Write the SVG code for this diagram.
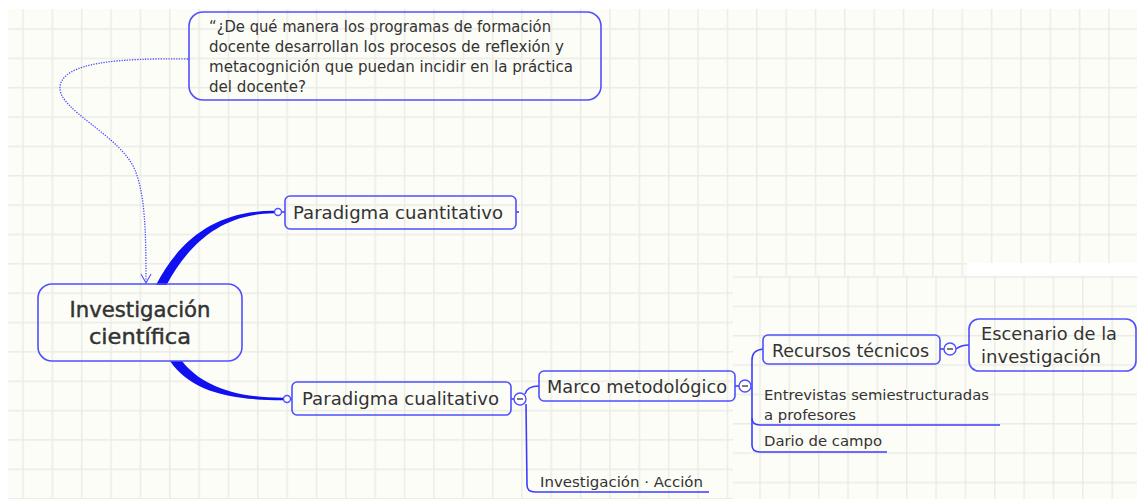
<svg xmlns="http://www.w3.org/2000/svg" width="1137" height="499" viewBox="0 0 1137 499">
<defs>
<pattern id="grid" patternUnits="userSpaceOnUse" x="22.25" y="28.25" width="29.35" height="29.35"><path d="M0,0.75H29.35M0.75,0V29.35" stroke="#ececE6" stroke-width="1.5" fill="none"/></pattern>
<pattern id="grid2" patternUnits="userSpaceOnUse" x="759.25" y="276.25" width="29.35" height="29.35"><path d="M0,0.75H29.35M0.75,0V29.35" stroke="#ececE6" stroke-width="1.5" fill="none"/></pattern>
<style>
.box{fill:none;stroke:#4f4fff;stroke-width:1.6}
.t{font-family:"DejaVu Sans",Verdana,sans-serif;fill:#333}
.ln{fill:none;stroke:#3c3cff;stroke-width:1.6}
.btn{fill:#fff;stroke:#4f4fff;stroke-width:1.4}
.minus{stroke:#333;stroke-width:1.3}
.thick{fill:#1010f0}
</style>
</defs>
<rect width="1137" height="499" fill="#ffffff"/>
<rect x="8" y="9" width="1129" height="490" fill="#fdfdf8"/>
<rect x="8" y="9" width="1129" height="490" fill="url(#grid)"/>
<rect x="967" y="263" width="170" height="13" fill="#ffffff"/>
<rect x="733" y="276" width="404" height="223" fill="#fdfdf8"/>
<rect x="733" y="276" width="404" height="223" fill="url(#grid2)"/>

<g id="connectors">
<path d="M188,59 C120,58 62,62 60,87 C58,110 120,135 135,170 C145,195 146,230 146,282" fill="none" stroke="#4a4aff" stroke-width="1.3" stroke-dasharray="1.3 1.3"/>
<polyline points="141,274 146,283 151,274" fill="none" stroke="#5a5aff" stroke-width="1.2"/>
<path class="thick" d="M156,285 C181,237 218,210.8 274,210.8 L274,213.2 C222,214 190,242 166.5,285 Z"/>
<path class="thick" d="M170,361 C190,390.5 228,400.3 283,400.3 L283,397.8 C232,397.8 200,384 182,361 Z"/>
<line class="ln" x1="281" y1="212" x2="285" y2="212"/>
<circle class="btn" cx="278" cy="212" r="3.5"/>
<line class="ln" x1="516" y1="212" x2="519" y2="212"/>
<line class="ln" x1="290" y1="399" x2="292" y2="399"/>
<circle class="btn" cx="287" cy="399" r="3.5"/>
<line class="ln" x1="511" y1="399" x2="514" y2="399"/>
<path class="ln" d="M525,394 Q527,386 539,386"/>
<path class="ln" d="M526,404 L527,485 Q527,492 535,492 L709,492"/>
<line class="ln" x1="735" y1="386" x2="739" y2="386"/>
<path class="ln" d="M763,349 Q752,350 752,360 L752,445 Q752,452 760,452 L887,452"/>
<path class="ln" d="M752,418 Q752,425 760,425 L1000,425"/>
<line class="ln" x1="940" y1="349" x2="944" y2="349"/>
<path class="ln" d="M956,349 Q961,345 969,345"/>
</g>

<g id="n-pregunta">
<rect class="box" x="189" y="12" width="412" height="88" rx="14"/>
<text class="t" font-size="15" x="209" y="31.5" textLength="342" lengthAdjust="spacingAndGlyphs">“¿De qué manera los programas de formación</text>
<text class="t" font-size="15" x="209" y="51.5" textLength="355" lengthAdjust="spacingAndGlyphs">docente desarrollan los procesos de reflexión y</text>
<text class="t" font-size="15" x="209" y="71.5" textLength="364" lengthAdjust="spacingAndGlyphs">metacognición que puedan incidir en la práctica</text>
<text class="t" font-size="15" x="209" y="91.5" textLength="97" lengthAdjust="spacingAndGlyphs">del docente?</text>
</g>

<g id="n-central">
<rect class="box" x="38" y="284" width="204" height="77" rx="14"/>
<text class="t" font-size="21" x="140" y="316.5" text-anchor="middle" stroke="#333" stroke-width="0.45" textLength="141" lengthAdjust="spacingAndGlyphs">Investigación</text>
<text class="t" font-size="21" x="140" y="344" text-anchor="middle" stroke="#333" stroke-width="0.45" textLength="102" lengthAdjust="spacingAndGlyphs">científica</text>
</g>

<g id="n-cuantitativo">
<rect class="box" x="285" y="196" width="231" height="33" rx="5"/>
<text class="t" font-size="18" x="293" y="219" textLength="210" lengthAdjust="spacingAndGlyphs">Paradigma cuantitativo</text>
</g>

<g id="n-cualitativo">
<rect class="box" x="292" y="382" width="219" height="33" rx="5"/>
<text class="t" font-size="18" x="302" y="405" textLength="197" lengthAdjust="spacingAndGlyphs">Paradigma cualitativo</text>
<circle class="btn" cx="520" cy="399" r="6"/>
<line class="minus" x1="517" y1="399" x2="523" y2="399"/>
</g>

<g id="n-marco">
<rect class="box" x="539" y="371" width="196" height="30" rx="5"/>
<text class="t" font-size="18" x="547" y="392.5" textLength="180" lengthAdjust="spacingAndGlyphs">Marco metodológico</text>
<circle class="btn" cx="745" cy="386" r="6"/>
<line class="minus" x1="742" y1="386" x2="748" y2="386"/>
</g>

<g id="n-accion">
<text class="t" font-size="14.5" x="540" y="486.5" textLength="163" lengthAdjust="spacingAndGlyphs">Investigación · Acción</text>
</g>

<g id="n-recursos">
<rect class="box" x="763" y="335" width="177" height="29" rx="5"/>
<text class="t" font-size="18" x="772" y="356.5" textLength="157" lengthAdjust="spacingAndGlyphs">Recursos técnicos</text>
<circle class="btn" cx="950" cy="349" r="6"/>
<line class="minus" x1="947" y1="349" x2="953" y2="349"/>
</g>

<g id="n-escenario">
<rect class="box" x="969" y="319" width="167" height="52" rx="10"/>
<text class="t" font-size="18.5" x="981" y="340" textLength="136" lengthAdjust="spacingAndGlyphs">Escenario de la</text>
<text class="t" font-size="18.5" x="981" y="362.5" textLength="120" lengthAdjust="spacingAndGlyphs">investigación</text>
</g>

<g id="n-entrevistas">
<text class="t" font-size="14.5" x="764" y="400" textLength="225" lengthAdjust="spacingAndGlyphs">Entrevistas semiestructuradas</text>
<text class="t" font-size="14.5" x="764" y="419.5" textLength="92" lengthAdjust="spacingAndGlyphs">a profesores</text>
</g>

<g id="n-dario">
<text class="t" font-size="14.5" x="764" y="446" textLength="118" lengthAdjust="spacingAndGlyphs">Dario de campo</text>
</g>
</svg>
